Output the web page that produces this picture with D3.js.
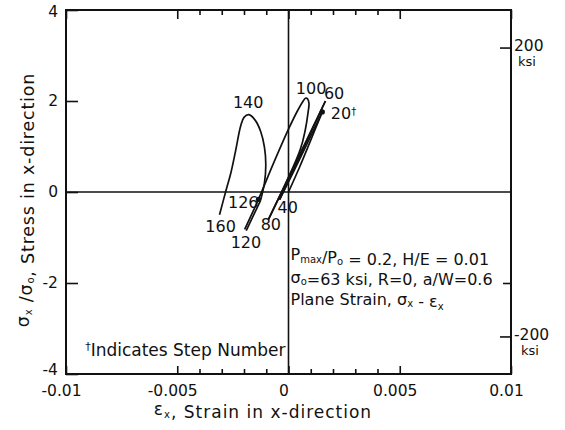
<!DOCTYPE html>
<html><head><meta charset="utf-8">
<script src="https://cdn.jsdelivr.net/npm/d3@7/dist/d3.min.js"></script>
<style>
body{margin:0;background:#fff}
text{font-family:"DejaVu Sans",sans-serif;fill:#111}
</style>
</head><body>
<svg id="c" width="565" height="430"></svg>
<script>
// ---- data ----
const strainTicks=[-0.01,-0.005,0,0.005,0.01];
const strainTickLabels=["-0.01","-0.005","0","0.005","0.01"];
const strainMinorTicks=[-0.004,-0.003,-0.002,-0.001,0.001,0.002,0.003,0.004];
const stressTicks=[-4,-2,0,2,4];
const stressTickLabels=["-4","-2","0","2","4"];
const ksiTicks=[-200,200];
const ksiTickLabels=["-200","200"];
const sigma0Ksi=63;

// loading history segments: [strain eps_x, sigma_x/sigma_o]
const step0to20=[[0,0],[0.0005,0.55],[0.001,1.14],[0.00152,1.76]];
const step20to40=[[0.00152,1.76],[0.0006,0.82],[-0.0004,-0.17]];
const step40to60=[[-0.0004,-0.17],[0.0006,0.88],[0.00166,2.0]];
const step60to80=[[0.00166,2.0],[0.0004,0.72],[-0.0009,-0.6]];
const step80to120=[[-0.0009,-0.6],[0.00052,0.92],[0.00076,1.38],[0.00088,1.75],[0.00092,1.95],[0.00085,2.05],[0.00076,2.06],[0.00066,2.0],[0.0004,1.78],[0,1.38],[-0.0007,0.6],[-0.00135,-0.16],[-0.00197,-0.82]];
const step120to126=[[-0.0019,-0.85],[-0.00126,-0.19]];
const step126to160=[[-0.00126,-0.19],[-0.00108,0.2],[-0.00102,0.6],[-0.00108,0.98],[-0.00125,1.33],[-0.0015,1.58],[-0.00178,1.7],[-0.002,1.64],[-0.00215,1.45],[-0.00238,0.9],[-0.0026,0.4],[-0.0028,0.05],[-0.0031,-0.5]];
const markedPoints=[[0.00152,1.76],[-0.00135,-0.16]];
const stepLabels=["20","40","60","80","100","120","126","140","160"];
const stepLabelAt=[[0.0019,1.6],[-0.00049,-0.46],[0.00159,2.04],[-0.00125,-0.83],[0.00033,2.15],[-0.0026,-1.24],[-0.00272,-0.35],[-0.0025,1.85],[-0.00374,-0.87]];

// ---- layout ----
const svg=d3.select("#c");
const x=d3.scaleLinear().domain([-0.01,0.01]).range([66,511]);
const y=d3.scaleLinear().domain([-4,4]).range([374,10]);
const yK=d3.scaleLinear().domain([-4*sigma0Ksi,4*sigma0Ksi]).range([374,10]);
const X0=x.range()[0],X1=x.range()[1],Y0=y.range()[1],Y1=y.range()[0];

// zero lines
svg.append("line").attr("x1",X0).attr("x2",X1).attr("y1",y(0)).attr("y2",y(0)).attr("stroke","#111").attr("stroke-width",1.6);
svg.append("line").attr("x1",x(0)).attr("x2",x(0)).attr("y1",Y0).attr("y2",Y1).attr("stroke","#111").attr("stroke-width",1.6);

// axes
function styleAxis(g){g.select(".domain").remove();g.selectAll(".tick line").attr("stroke","#111").attr("stroke-width",1.6);g.selectAll("text").style("font-size","15.5px").style("font-family","DejaVu Sans").attr("fill","#111");}
svg.append("g").attr("transform",`translate(0,${Y1})`)
  .call(d3.axisBottom(x).tickValues(strainTicks).tickSize(-8).tickPadding(11).tickFormat((d,i)=>strainTickLabels[i]))
  .call(styleAxis).selectAll("text").attr("dx",-5);
svg.append("g").attr("transform",`translate(0,${Y1})`)
  .call(d3.axisBottom(x).tickValues(strainMinorTicks).tickSize(-5).tickFormat(""))
  .call(styleAxis);
svg.append("g").attr("transform",`translate(0,${Y0})`)
  .call(d3.axisTop(x).tickValues(strainTicks).tickSize(-9).tickFormat(""))
  .call(styleAxis);
svg.append("g").attr("transform",`translate(0,${Y0})`)
  .call(d3.axisTop(x).tickValues(strainMinorTicks).tickSize(-5).tickFormat(""))
  .call(styleAxis);
const la=svg.append("g").attr("transform",`translate(${X0},0)`)
  .call(d3.axisLeft(y).tickValues(stressTicks).tickSize(-12).tickPadding(8).tickFormat((d,i)=>stressTickLabels[i]))
  .call(styleAxis);
la.selectAll(".tick text").filter(d=>d===-4).attr("dy","0.05em");
la.selectAll(".tick text").filter(d=>d===4).attr("dy","0.45em");
svg.append("g").attr("transform",`translate(${X1},0)`)
  .call(d3.axisRight(y).tickValues([-2]).tickSize(-8).tickFormat(""))
  .call(styleAxis);
const rk=svg.append("g").attr("transform",`translate(${X1},0)`)
  .call(d3.axisRight(yK).tickValues(ksiTicks).tickSize(-11).tickPadding(3).tickFormat((d,i)=>ksiTickLabels[i]))
  .call(styleAxis);
rk.selectAll(".tick text").attr("dy","0.2em").each(function(d){
  d3.select(this).append("tspan").attr("x",d<0?10:7).attr("dy","1.15em").style("font-size","13px").text("ksi");
});

// frame
svg.append("rect").attr("x",X0).attr("y",Y0).attr("width",X1-X0).attr("height",Y1-Y0)
  .attr("fill","none").attr("stroke","#111").attr("stroke-width",2);

// curves
const line=d3.line().x(d=>x(d[0])).y(d=>y(d[1])).curve(d3.curveCatmullRom.alpha(0.5));
[step0to20,step20to40,step40to60,step60to80,step80to120,step120to126,step126to160].forEach(s=>{
  svg.append("path").attr("d",line(s)).attr("fill","none").attr("stroke","#111").attr("stroke-width",1.7);
});
svg.selectAll("circle.m").data(markedPoints).enter().append("circle")
  .attr("cx",d=>x(d[0])).attr("cy",d=>y(d[1])).attr("r",2.6).attr("fill","#111");

// step labels
stepLabels.forEach((t,i)=>{
  const tx=svg.append("text").attr("x",x(stepLabelAt[i][0])).attr("y",y(stepLabelAt[i][1])).style("font-size","16px").text(t);
  if(t==="20") tx.append("tspan").attr("dy","-0.45em").style("font-size","10px").text("†");
});

// annotation box text
const ann=svg.append("g").style("font-size","16px");
function sub(t,s){t.append("tspan").attr("dy","0.25em").style("font-size","10px").text(s);t.append("tspan").attr("dy","-0.25em").text("");}
let t1=ann.append("text").attr("x",x(0)+2).attr("y",y(-1.5));
t1.append("tspan").text("P");sub(t1,"max");t1.append("tspan").text("/P");sub(t1,"o");t1.append("tspan").text(" = 0.2, H/E = 0.01");
let t2=ann.append("text").attr("x",x(0)+2).attr("y",y(-1.99));
t2.append("tspan").text("σ");sub(t2,"o");t2.append("tspan").text("=63 ksi, R=0, a/W=0.6");
let t3=ann.append("text").attr("x",x(0)+2).attr("y",y(-2.48));
t3.append("tspan").text("Plane Strain, σ");sub(t3,"x");t3.append("tspan").text(" - ε");sub(t3,"x");

let t4=svg.append("text").attr("x",x(-0.00914)).attr("y",y(-3.56)).style("font-size","17px");
t4.append("tspan").attr("dy","-0.4em").style("font-size","11px").text("†");
t4.append("tspan").attr("dy","0.4em").text("Indicates Step Number");

// axis titles
let xt=svg.append("text").attr("x",263).attr("y",415).attr("text-anchor","middle").style("font-size","17px").style("letter-spacing","1px");
xt.append("tspan").text("ε");sub(xt,"x");xt.append("tspan").text(", Strain in x-direction");
let yt=svg.append("text").attr("transform","translate(29,200) rotate(-90)").attr("text-anchor","middle").style("font-size","17.5px").style("letter-spacing","0.8px");
yt.append("tspan").text("σ");sub(yt,"x");yt.append("tspan").text(" /σ");sub(yt,"o");yt.append("tspan").text(", Stress in x-direction");
</script>
</body></html>
